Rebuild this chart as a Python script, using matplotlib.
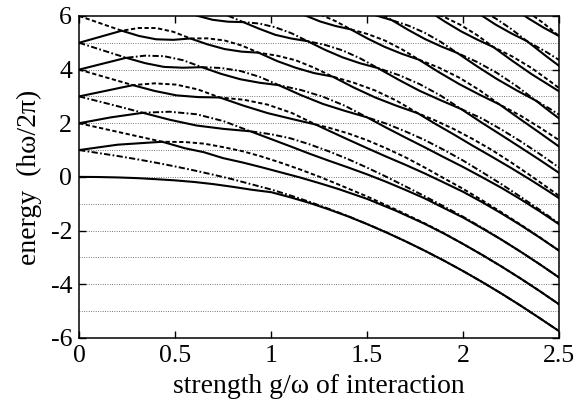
import matplotlib
matplotlib.use('Agg')
import matplotlib.pyplot as plt

# energy levels, one pair of curves per band k
# lo = solid (lower curve), hi = upper curve of the same band
g0 = [0, 0.1, 0.2, 0.3, 0.4, 0.5, 0.6, 0.7, 0.8, 0.9, 1.0, 1.1, 1.2, 1.3, 1.4, 1.5,
      1.6, 1.7, 1.8, 1.9, 2.0, 2.1, 2.2, 2.3, 2.4, 2.5]
lo0 = [0, -0.005, -0.02, -0.045, -0.085, -0.13, -0.19, -0.27, -0.37, -0.48, -0.57, -0.76,
       -0.97, -1.21, -1.47, -1.76, -2.07, -2.40, -2.75, -3.12, -3.51, -3.92, -4.35, -4.80, -5.27, -5.75]
hi0 = [1.0, 0.89, 0.78, 0.66, 0.53, 0.39, 0.24, 0.08, -0.09, -0.28, -0.47, -0.69,
       -0.93, -1.19, -1.46, -1.755, -2.065, -2.40, -2.75, -3.12, -3.51, -3.92, -4.35, -4.80, -5.27, -5.75]

g1 = [0, 0.2, 0.433, 0.55, 0.65, 0.75, 0.85, 0.95, 1.05, 1.15, 1.25, 1.35, 1.5, 1.65,
      1.8, 1.9, 2.0, 2.1, 2.2, 2.3, 2.4, 2.5]
lo1 = [1.0, 1.20, 1.31, 1.07, 0.92, 0.70, 0.54, 0.36, 0.17, -0.02, -0.23, -0.45, -0.82, -1.26,
       -1.75, -2.11, -2.5, -2.91, -3.34, -3.79, -4.26, -4.75]
hi1 = [2.0, 1.68, 1.31, 1.30, 1.24, 1.11, 0.96, 0.76, 0.53, 0.28, 0.01, -0.28, -0.73, -1.22,
       -1.73, -2.10, -2.5, -2.91, -3.34, -3.79, -4.26, -4.75]

g2 = [0, 0.166, 0.332, 0.472, 0.612, 0.752, 0.892, 1.0, 1.1, 1.2, 1.3, 1.4, 1.5, 1.6, 1.7,
      1.8, 1.9, 2.0, 2.1, 2.2, 2.3, 2.4, 2.5]
lo2 = [2.0, 2.22, 2.39, 2.13, 1.915, 1.79, 1.70, 1.41, 1.14, 0.865, 0.605, 0.355, 0.095, -0.185,
       -0.486, -0.80, -1.16, -1.515, -1.92, -2.34, -2.79, -3.26, -3.75]
hi2 = [3.0, 2.70, 2.39, 2.43, 2.335, 2.08, 1.70, 1.59, 1.44, 1.215, 0.955, 0.665, 0.345, 0.005,
       -0.354, -0.72, -1.10, -1.485, -1.90, -2.34, -2.79, -3.26, -3.75]

g3 = [0, 0.28, 0.393, 0.5065, 0.62, 0.733, 0.858, 0.983, 1.108, 1.233, 1.3, 1.4, 1.5, 1.6,
      1.7, 1.8, 1.9, 2.0, 2.1, 2.2, 2.3, 2.4, 2.5]
lo3 = [3.0, 3.42, 3.205, 3.04, 2.975, 2.96, 2.652, 2.376, 2.16, 1.95, 1.725, 1.395, 1.072, 0.755,
       0.45, 0.13, -0.21, -0.555, -0.945, -1.36, -1.80, -2.265, -2.75]
hi3 = [4.0, 3.42, 3.487, 3.44, 3.257, 2.96, 2.876, 2.692, 2.384, 1.95, 1.835, 1.625, 1.368, 1.065,
       0.73, 0.35, -0.05, -0.445, -0.875, -1.32, -1.78, -2.255, -2.75]

g4 = [0, 0.245, 0.344, 0.4425, 0.541, 0.64, 0.74, 0.84, 0.94, 1.04, 1.155, 1.27, 1.385, 1.50,
      1.6, 1.7, 1.8, 1.9, 2.0, 2.1, 2.2, 2.3, 2.4, 2.5]
lo4 = [4.0, 4.44, 4.24, 4.10, 4.07, 4.09, 3.84, 3.64, 3.51, 3.42, 3.05, 2.72, 2.46, 2.22,
       1.835, 1.465, 1.104, 0.733, 0.37, -0.015, -0.408, -0.835, -1.287, -1.765]
hi4 = [5.0, 4.44, 4.52, 4.50, 4.35, 4.09, 4.06, 3.95, 3.73, 3.42, 3.24, 2.99, 2.65, 2.22,
       1.985, 1.695, 1.376, 1.007, 0.61, 0.175, -0.272, -0.745, -1.233, -1.735]

g5 = [0, 0.222, 0.3115, 0.401, 0.4905, 0.58, 0.669, 0.7575, 0.846, 0.935, 1.031, 1.1275, 1.224,
      1.32, 1.431, 1.5425, 1.654, 1.765, 1.85, 1.95, 2.05, 2.15, 2.25, 2.35, 2.45, 2.5]
lo5 = [5.0, 5.45, 5.255, 5.13, 5.11, 5.16, 4.94, 4.766, 4.67, 4.63, 4.32, 4.07, 3.87,
       3.74, 3.33, 2.96, 2.65, 2.37, 2.0, 1.59, 1.163, 0.753, 0.333, -0.103, -0.558, -0.795]
hi5 = [6.0, 5.45, 5.551, 5.55, 5.41, 5.16, 5.165, 5.086, 4.90, 4.63, 4.52, 4.35, 4.07,
       3.74, 3.51, 3.22, 2.84, 2.37, 2.12, 1.79, 1.413, 1.003, 0.543, 0.058, -0.448, -0.705]

g6 = [0, 0.198, 0.282, 0.3665, 0.451, 0.535, 0.615, 0.695, 0.775, 0.855, 0.939, 1.0225, 1.106,
      1.19, 1.281, 1.3725, 1.464, 1.555, 1.664, 1.7725, 1.881, 1.99, 2.1, 2.2, 2.3, 2.4, 2.5]
lo6 = [6.0, 6.46, 6.27, 6.156, 6.15, 6.21, 6.009, 5.857, 5.786, 5.77, 5.52, 5.295, 5.158,
       5.06, 4.737, 4.456, 4.235, 4.06, 3.623, 3.213, 2.864, 2.53, 2.01, 1.555, 1.095, 0.63, 0.15]
hi6 = [7.0, 6.46, 6.57, 6.576, 6.445, 6.21, 6.235, 6.177, 6.012, 5.77, 5.717, 5.575, 5.356,
       5.06, 4.921, 4.716, 4.419, 4.06, 3.799, 3.463, 3.04, 2.53, 2.17, 1.765, 1.325, 0.85, 0.35]

g7 = [0.95, 1.095, 1.175, 1.255, 1.335, 1.415, 1.504, 1.5925, 1.681, 1.77, 1.875, 1.98, 2.085,
      2.19, 2.3, 2.4, 2.5]
lo7 = [6.46, 6.30, 6.027, 5.795, 5.626, 5.50, 5.153, 4.844, 4.589, 4.37, 3.90, 3.46, 3.068,
       2.70, 2.14, 1.64, 1.13]
hi7 = [6.74, 6.30, 6.211, 6.055, 5.81, 5.50, 5.323, 5.084, 4.759, 4.37, 4.07, 3.70, 3.238,
       2.70, 2.28, 1.84, 1.37]

g8 = [1.315, 1.394, 1.4725, 1.551, 1.63, 1.715, 1.80, 1.885, 1.97, 2.0725, 2.175, 2.2775, 2.38, 2.45, 2.5]
lo8 = [6.77, 6.47, 6.21, 6.01, 5.84, 5.478, 5.145, 4.866, 4.62, 4.124, 3.654, 3.232, 2.84, 2.448, 2.18]
hi8 = [6.77, 6.64, 6.45, 6.18, 5.84, 5.64, 5.375, 5.028, 4.62, 4.286, 3.884, 3.394, 2.84, 2.548, 2.32]

g9 = [1.75, 1.822, 1.906, 1.99, 2.074, 2.158, 2.257, 2.357, 2.456, 2.5]
lo9 = [6.36, 6.18, 5.786, 5.425, 5.118, 4.84, 4.325, 3.83, 3.387, 3.19]
hi9 = [6.52, 6.18, 5.948, 5.655, 5.28, 4.84, 4.487, 4.06, 3.549, 3.31]

g10 = [1.95, 2.005, 2.087, 2.169, 2.251, 2.333, 2.433, 2.5]
lo10 = [6.6, 6.48, 6.063, 5.68, 5.352, 5.06, 4.50, 4.14]
hi10 = [6.8, 6.48, 6.225, 5.91, 5.514, 5.06, 4.66, 4.36]

g11 = [2.18, 2.26, 2.34, 2.42, 2.5]
lo11 = [6.75, 6.31, 5.91, 5.563, 5.25]
hi11 = [6.75, 6.47, 6.14, 5.725, 5.25]

bands = [(g0, lo0, hi0), (g1, lo1, hi1), (g2, lo2, hi2), (g3, lo3, hi3),
         (g4, lo4, hi4), (g5, lo5, hi5), (g6, lo6, hi6), (g7, lo7, hi7),
         (g8, lo8, hi8), (g9, lo9, hi9), (g10, lo10, hi10), (g11, lo11, hi11)]

xticks = [0, 0.5, 1, 1.5, 2, 2.5]
xlabels = ['0', '0.5', '1', '1.5', '2', '2.5']
yticks = [-6, -4, -2, 0, 2, 4, 6]
grid_y = [-5, -4, -3, -2, -1, 0, 1, 2, 3, 4, 5]

plt.rcParams['font.family'] = ['Liberation Serif', 'DejaVu Serif']
plt.rcParams['axes.unicode_minus'] = False

fig = plt.figure(figsize=(5.86, 4.09), dpi=100)
ax = fig.add_axes([0.135, 0.174, 0.819, 0.787])

for y in grid_y:
    ax.axhline(y, color='0.35', lw=0.7, ls=(0, (0.8, 1.6)), zorder=1)

dashed = (0, (2.2, 1.3))
dashdot = (0, (3.2, 1.2, 0.9, 1.2))

for k, (g, lo, hi) in enumerate(bands):
    # upper curve alternates dash-dot / dashed from band to band
    ax.plot(g, hi, color='black', lw=1.4, ls=dashdot if k % 2 == 0 else dashed, zorder=2)
    ax.plot(g, lo, color='black', lw=1.5, ls='-', zorder=3)

ax.set_xlim(0, 2.5)
ax.set_ylim(-6, 6)
ax.set_xticks(xticks)
ax.set_xticklabels(xlabels)
ax.set_yticks(yticks)
ax.tick_params(direction='in', top=True, right=True, length=5, width=1,
               labelsize=18.5, pad=5)
for s in ax.spines.values():
    s.set_linewidth(1.1)

ax.set_xlabel('strength g/\u03c9 of interaction', fontsize=20, labelpad=5)
ax.set_ylabel('energy  (h\u03c9/2\u03c0)', fontsize=20, labelpad=6)

fig.savefig('out.png', dpi=100)
